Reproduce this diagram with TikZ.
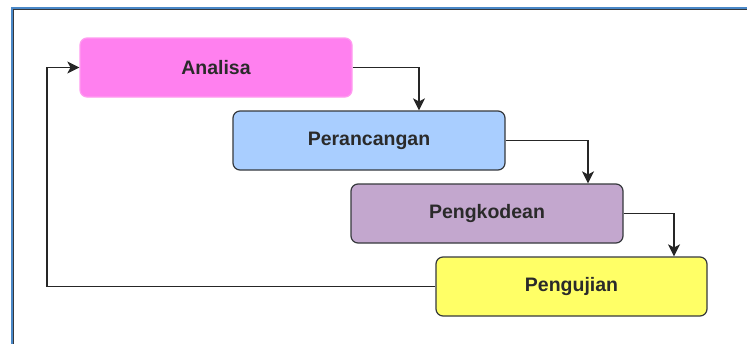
\documentclass[tikz,border=0pt]{standalone}
\usepackage{fontspec}
\setmainfont{Liberation Sans}
\usetikzlibrary{arrows.meta}
\definecolor{pinkfill}{HTML}{FF80EF}
\definecolor{pinkline}{HTML}{FF9CF0}
\definecolor{bluefill}{HTML}{A9CEFF}
\definecolor{purplefill}{HTML}{C3A7CE}
\definecolor{yellowfill}{HTML}{FFFF66}
\definecolor{edge}{HTML}{36393D}
\definecolor{frameblue}{HTML}{4A88C8}
\definecolor{txt}{HTML}{2A2A2A}
\tikzset{
  phase/.style={rectangle, rounded corners=7pt, minimum width=272pt, minimum height=59pt,
    draw=edge, line width=1.2pt, inner sep=0pt, text=txt,
    font=\fontsize{19.5pt}{22pt}\selectfont\bfseries},
  conn/.style={draw=black!85, line width=1.3pt, -{Stealth[length=12pt,width=12pt,inset=3pt]}}
}
\begin{document}
\begin{tikzpicture}[x=1pt,y=-1pt]
\useasboundingbox (0,0) rectangle (747,343);
\fill[white] (0,0) rectangle (747,343);
% frame (left and top edges)
\draw[frameblue, line width=2pt] (12,350) -- (12,8) -- (760,8);
\draw[edge, line width=0.8pt] (13.6,350) -- (13.6,9.6) -- (760,9.6);
% phases
\node[phase, fill=pinkfill, draw=pinkline] (A) at (216,67.5) {Analisa};
\node[phase, fill=bluefill] (P) at (369,140.5) {Perancangan};
\node[phase, fill=purplefill] (K) at (487,213.5) {Pengkodean};
\node[phase, fill=yellowfill, minimum width=271pt] (U) at (571.5,286.5) {Pengujian};
\coordinate (back) at (47,286.5);
% connectors
\draw[conn] (A.east) -| ([xshift=50pt]P.north);
\draw[conn] (P.east) -| ([xshift=101pt]K.north);
\draw[conn] (K.east) -| ([xshift=102.5pt]U.north);
\draw[conn] (U.west) -- (back) |- (A.west);
\end{tikzpicture}
\end{document}
